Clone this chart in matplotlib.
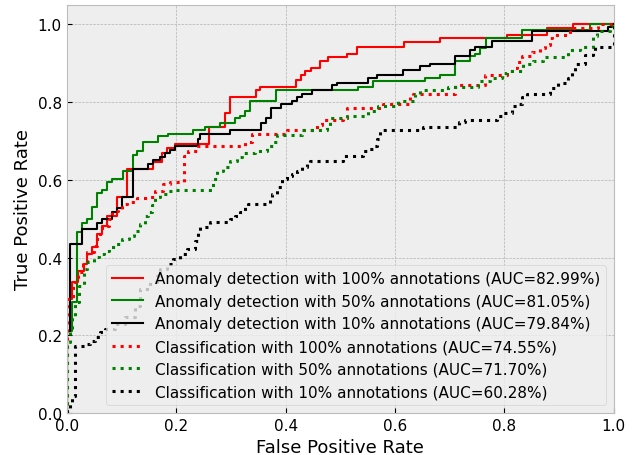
import matplotlib
matplotlib.use('Agg')
import matplotlib.pyplot as plt

# ROC curves (points where the curve steps up)

ad100_fpr = [0, 0, 0.009, 0.020, 0.031, 0.037, 0.046, 0.055, 0.064, 0.073,
             0.091, 0.110, 0.157, 0.174, 0.183, 0.197, 0.260, 0.289, 0.298, 0.346,
             0.353, 0.419, 0.428, 0.435, 0.446, 0.463, 0.470, 0.477, 0.512, 0.530,
             0.616, 0.682, 0.804, 0.878, 0.925, 1.0]
ad100_tpr = [0, 0.294, 0.338, 0.366, 0.384, 0.410, 0.428, 0.461, 0.482, 0.508,
             0.557, 0.629, 0.647, 0.668, 0.683, 0.693, 0.737, 0.773, 0.812, 0.832,
             0.840, 0.858, 0.869, 0.879, 0.887, 0.905, 0.907, 0.915, 0.925, 0.943,
             0.954, 0.964, 0.972, 0.990, 1.0, 1.0]

ad50_fpr = [0, 0, 0.009, 0.018, 0.027, 0.037, 0.046, 0.055, 0.064, 0.073,
            0.082, 0.102, 0.121, 0.128, 0.139, 0.166, 0.185, 0.230, 0.252, 0.280,
            0.307, 0.316, 0.325, 0.335, 0.382, 0.532, 0.559, 0.655, 0.682, 0.709,
            0.737, 0.746, 0.755, 0.766, 0.832, 0.956, 1.0]
ad50_tpr = [0, 0.21, 0.286, 0.466, 0.490, 0.500, 0.530, 0.565, 0.575, 0.595,
            0.603, 0.624, 0.663, 0.673, 0.698, 0.714, 0.719, 0.727, 0.737, 0.747,
            0.758, 0.765, 0.776, 0.802, 0.830, 0.840, 0.853, 0.861, 0.869, 0.905,
            0.918, 0.925, 0.938, 0.964, 0.985, 1.0, 1.0]

ad10_fpr = [0, 0, 0.005, 0.027, 0.055, 0.064, 0.082, 0.091, 0.101, 0.121,
            0.148, 0.157, 0.170, 0.179, 0.188, 0.197, 0.240, 0.243, 0.298, 0.355,
            0.364, 0.373, 0.391, 0.411, 0.420, 0.430, 0.448, 0.484, 0.494, 0.550,
            0.568, 0.614, 0.645, 0.664, 0.709, 0.737, 0.746, 0.777, 0.850, 0.990,
            0.996, 1.0]
ad10_tpr = [0, 0.21, 0.436, 0.474, 0.490, 0.500, 0.518, 0.528, 0.557, 0.629,
            0.640, 0.650, 0.660, 0.670, 0.678, 0.688, 0.706, 0.719, 0.727, 0.745,
            0.758, 0.784, 0.794, 0.804, 0.814, 0.822, 0.830, 0.843, 0.850, 0.861,
            0.869, 0.882, 0.892, 0.897, 0.918, 0.933, 0.943, 0.956, 0.982, 0.992,
            1.0, 1.0]

clf100_fpr = [0, 0, 0.011, 0.020, 0.029, 0.037, 0.049, 0.055, 0.064, 0.077,
              0.082, 0.093, 0.101, 0.110, 0.128, 0.146, 0.161, 0.176, 0.188, 0.214,
              0.221, 0.239, 0.325, 0.338, 0.402, 0.457, 0.466, 0.505, 0.512, 0.578,
              0.627, 0.633, 0.709, 0.764, 0.804, 0.814, 0.823, 0.832, 0.850, 0.865,
              0.874, 0.883, 0.888, 0.920, 0.971, 1.0]
clf100_tpr = [0, 0.294, 0.338, 0.363, 0.384, 0.415, 0.430, 0.461, 0.482, 0.500,
              0.521, 0.526, 0.539, 0.544, 0.552, 0.557, 0.570, 0.590, 0.595, 0.662,
              0.673, 0.688, 0.698, 0.719, 0.727, 0.740, 0.753, 0.758, 0.784, 0.794,
              0.814, 0.822, 0.843, 0.869, 0.879, 0.889, 0.902, 0.918, 0.928, 0.938,
              0.948, 0.964, 0.972, 0.990, 1.0, 1.0]

clf50_fpr = [0, 0, 0.005, 0.009, 0.015, 0.022, 0.031, 0.037, 0.049, 0.059,
             0.068, 0.077, 0.088, 0.101, 0.113, 0.122, 0.133, 0.143, 0.148, 0.155,
             0.161, 0.170, 0.183, 0.192, 0.267, 0.274, 0.285, 0.298, 0.311, 0.320,
             0.344, 0.366, 0.377, 0.384, 0.430, 0.475, 0.481, 0.512, 0.550, 0.569,
             0.605, 0.636, 0.645, 0.697, 0.751, 0.773, 0.795, 0.804, 0.834, 0.852,
             0.870, 0.916, 0.938, 0.962, 0.969, 0.993, 0.998, 1.0]
clf50_tpr = [0, 0.183, 0.216, 0.250, 0.286, 0.327, 0.371, 0.389, 0.402, 0.410,
             0.418, 0.428, 0.436, 0.448, 0.456, 0.469, 0.487, 0.508, 0.518, 0.534,
             0.557, 0.564, 0.572, 0.575, 0.603, 0.624, 0.634, 0.649, 0.660, 0.668,
             0.673, 0.686, 0.698, 0.716, 0.727, 0.737, 0.758, 0.765, 0.776, 0.791,
             0.802, 0.822, 0.830, 0.840, 0.853, 0.861, 0.874, 0.879, 0.899, 0.905,
             0.915, 0.933, 0.943, 0.969, 0.982, 0.995, 1.0, 1.0]

clf10_fpr = [0, 0, 0.005, 0.009, 0.015, 0.033, 0.042, 0.051, 0.060, 0.069,
             0.088, 0.106, 0.124, 0.133, 0.152, 0.165, 0.170, 0.183, 0.194, 0.207,
             0.219, 0.234, 0.239, 0.243, 0.261, 0.298, 0.307, 0.316, 0.325, 0.331,
             0.371, 0.375, 0.384, 0.393, 0.402, 0.411, 0.420, 0.430, 0.439, 0.444,
             0.505, 0.541, 0.550, 0.559, 0.567, 0.572, 0.651, 0.718, 0.728, 0.786,
             0.795, 0.814, 0.823, 0.832, 0.841, 0.883, 0.898, 0.916, 0.923, 0.929,
             0.947, 0.962, 0.965, 1.0]
clf10_tpr = [0, 0.010, 0.028, 0.044, 0.173, 0.178, 0.186, 0.196, 0.209, 0.216,
             0.229, 0.247, 0.276, 0.320, 0.338, 0.353, 0.371, 0.384, 0.397, 0.410,
             0.423, 0.443, 0.466, 0.479, 0.492, 0.500, 0.508, 0.518, 0.531, 0.539,
             0.552, 0.564, 0.582, 0.603, 0.611, 0.616, 0.624, 0.634, 0.642, 0.649,
             0.662, 0.673, 0.680, 0.688, 0.706, 0.727, 0.737, 0.750, 0.755, 0.763,
             0.771, 0.789, 0.796, 0.812, 0.820, 0.835, 0.848, 0.861, 0.879, 0.899,
             0.920, 0.930, 0.943, 1.0]

labels = ['Anomaly detection with 100% annotations (AUC=82.99%)',
          'Anomaly detection with 50% annotations (AUC=81.05%)',
          'Anomaly detection with 10% annotations (AUC=79.84%)',
          'Classification with 100% annotations (AUC=74.55%)',
          'Classification with 50% annotations (AUC=71.70%)',
          'Classification with 10% annotations (AUC=60.28%)']

plt.style.use('bmh')
plt.rcParams['font.size'] = 11
plt.rcParams['axes.labelsize'] = 13
plt.rcParams['xtick.labelsize'] = 11
plt.rcParams['ytick.labelsize'] = 11

fig = plt.figure(figsize=(6.36, 4.56), dpi=100)
ax = fig.add_subplot(111)
fig.subplots_adjust(left=0.105, right=0.965, bottom=0.092, top=0.987)

ax.plot(ad100_fpr, ad100_tpr, color='red', lw=1.5, drawstyle='steps-post', label=labels[0])
ax.plot(ad50_fpr, ad50_tpr, color='green', lw=1.5, drawstyle='steps-post', label=labels[1])
ax.plot(ad10_fpr, ad10_tpr, color='black', lw=1.5, drawstyle='steps-post', label=labels[2])
ax.plot(clf100_fpr, clf100_tpr, color='red', lw=2.2, ls=':', drawstyle='steps-post', label=labels[3])
ax.plot(clf50_fpr, clf50_tpr, color='green', lw=2.2, ls=':', drawstyle='steps-post', label=labels[4])
ax.plot(clf10_fpr, clf10_tpr, color='black', lw=2.2, ls=':', drawstyle='steps-post', label=labels[5])

ax.set_xlim(0, 1)
ax.set_ylim(0, 1.05)
ax.set_xlabel('False Positive Rate')
ax.set_ylabel('True Positive Rate')
ax.legend(loc='lower right', fontsize=11)

plt.savefig('out.png')
